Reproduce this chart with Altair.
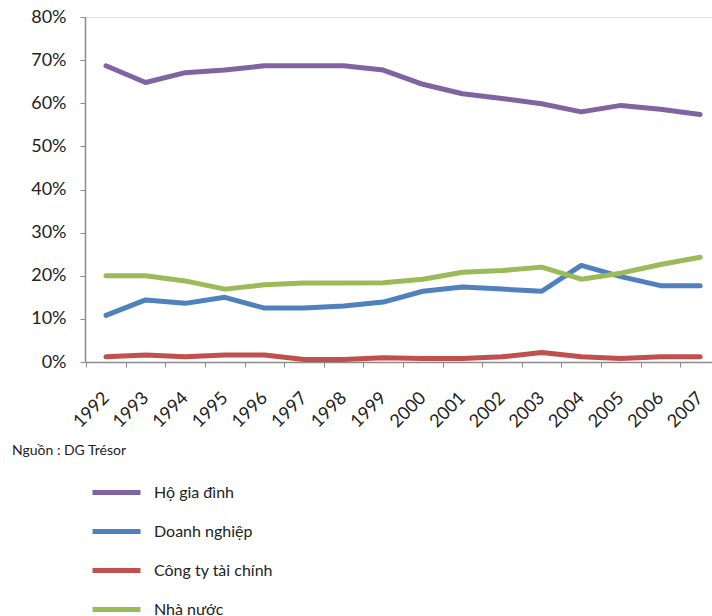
import altair as alt
import pandas as pd

# Share of holdings by sector, 1992-2007 (percent)
years = list(range(1992, 2008))
ho_gia_dinh = [68.7, 64.8, 67.1, 67.7, 68.7, 68.7, 68.7, 67.7, 64.4, 62.2, 61.1, 59.9, 58.0, 59.5, 58.6, 57.4]
doanh_nghiep = [10.8, 14.4, 13.6, 15.0, 12.5, 12.5, 13.0, 13.9, 16.4, 17.4, 16.9, 16.4, 22.4, 19.8, 17.7, 17.7]
cong_ty_tai_chinh = [1.2, 1.6, 1.2, 1.6, 1.6, 0.6, 0.6, 1.0, 0.8, 0.8, 1.2, 2.2, 1.2, 0.8, 1.2, 1.2]
nha_nuoc = [20.0, 20.0, 18.8, 16.9, 17.9, 18.3, 18.3, 18.4, 19.2, 20.8, 21.2, 22.0, 19.2, 20.6, 22.6, 24.3]

series_names = ["Hộ gia đình", "Doanh nghiệp", "Công ty tài chính", "Nhà nước"]
series_colors = ["#8064A2", "#4F81BD", "#C0504D", "#9BBB59"]
source_note = "Nguồn : DG Trésor"

rows = []
for name, values in zip(series_names, [ho_gia_dinh, doanh_nghiep, cong_ty_tai_chinh, nha_nuoc]):
    for y, v in zip(years, values):
        rows.append({"year": y, "value": v, "series": name})
df = pd.DataFrame(rows)

FONT = "Lato"
STEP = 627 / 15.83  # pixels per year on the x scale

lines = alt.Chart(df).mark_line(strokeWidth=5, strokeJoin="round", strokeCap="round").encode(
    x=alt.X(
        "year:Q",
        scale=alt.Scale(domain=[1991.47, 2007.30], nice=False, zero=False),
        axis=alt.Axis(
            values=years,
            format="d",
            title=None,
            grid=False,
            labelOverlap=False,
            tickOffset=-STEP / 2,
            labelOffset=STEP / 2,
            labelAngle=315,
            labelAlign="right",
            labelBaseline="middle",
            labelPadding=28,
            labelFontSize=18,
            labelColor="#222222",
            labelFont=FONT,
            tickSize=5,
            tickColor="#8c8c8c",
            domainColor="#8c8c8c",
            domainWidth=1.5,
        ),
    ),
    y=alt.Y(
        "value:Q",
        scale=alt.Scale(domain=[0, 80], nice=False),
        axis=alt.Axis(
            values=[0, 10, 20, 30, 40, 50, 60, 70, 80],
            labelExpr="datum.value + '%'",
            title=None,
            grid=False,
            labelPadding=14,
            labelFontSize=18,
            labelColor="#222222",
            labelFont=FONT,
            tickSize=5,
            tickColor="#8c8c8c",
            domainColor="#8c8c8c",
            domainWidth=1.5,
        ),
    ),
    color=alt.Color(
        "series:N",
        scale=alt.Scale(domain=series_names, range=series_colors),
        legend=alt.Legend(
            title=None,
            orient="none",
            legendX=17,
            legendY=461,
            direction="vertical",
            padding=0,
            symbolType="M-2,0H2",
            symbolSize=576,
            symbolStrokeWidth=5,
            rowPadding=14,
            labelOffset=23,
            labelFontSize=16,
            labelFont=FONT,
            labelColor="#222222",
        ),
    ),
    order=alt.Order("year:Q"),
)

note = alt.Chart(pd.DataFrame({"text": [source_note]})).mark_text(
    align="left", baseline="alphabetic", fontSize=14, font=FONT, color="#222222"
).encode(
    text="text:N",
    x=alt.value(-73),
    y=alt.value(438),
)

chart = alt.layer(lines, note).properties(
    width=627,
    height=345,
    autosize=alt.AutoSizeParams(type="none"),
    padding={"left": 85, "top": 17, "right": 0, "bottom": 254},
).configure_view(stroke=None).configure(background="white")

chart.save("out.html", embed_options={"renderer": "svg", "actions": False})
